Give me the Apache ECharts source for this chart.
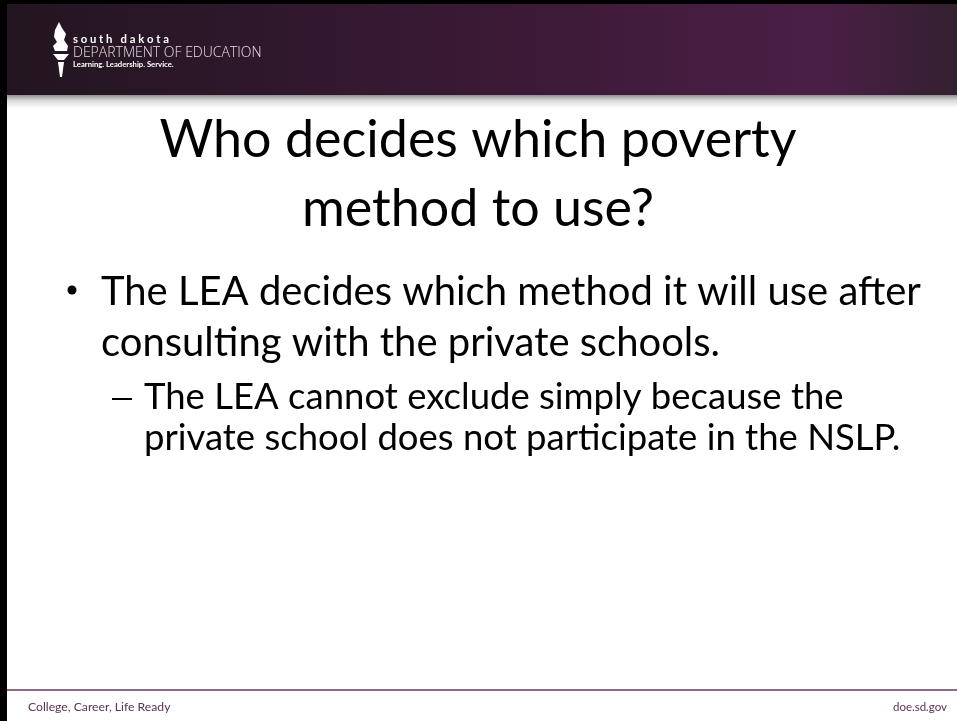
<!DOCTYPE html>
<html>
<head>
<meta charset="utf-8">
<script src="https://cdn.jsdelivr.net/npm/echarts@6/dist/echarts.min.js"></script>
<style>
  html, body { margin: 0; padding: 0; background: #fff; }
  #container { width: 957px; height: 721px; }
</style>
</head>
<body>
<div id="container"></div>
<script>
// slide texts
var titleLines = ['Who decides which poverty', 'method to use?']
var bulletLines = ['The LEA decides which method it will use after', 'consulting with the private schools.']
var subBulletLines = ['The LEA cannot exclude simply because the', 'private school does not participate in the NSLP.']
var logoLines = ['south dakota', 'DEPARTMENT OF EDUCATION', 'Learning. Leadership. Service.']
var footerLeft = 'College, Career, Life Ready'
var footerRight = 'doe.sd.gov'

var bodyFont = 'Lato, "Open Sans", sans-serif'
var purple = '#5b3354'

var elements = []

// header band
elements.push({
    type: 'rect',
    shape: { x: 0, y: 0, width: 957, height: 95 },
    style: {
        fill: new echarts.graphic.LinearGradient(0, 0, 1, 0, [
            { offset: 0, color: '#221520' },
            { offset: 0.55, color: '#3c1a37' },
            { offset: 0.86, color: '#4a1f46' },
            { offset: 1, color: '#33202f' }
        ])
    }
})
// soft shadow under header
elements.push({
    type: 'rect',
    shape: { x: 0, y: 95, width: 957, height: 13 },
    style: {
        fill: new echarts.graphic.LinearGradient(0, 0, 0, 1, [
            { offset: 0, color: '#8f8f8f' },
            { offset: 0.4, color: '#d6d6d6' },
            { offset: 1, color: '#ffffff' }
        ])
    }
})
// black frame top + left
elements.push({ type: 'rect', shape: { x: 0, y: 0, width: 957, height: 4 }, style: { fill: '#000' } })
elements.push({ type: 'rect', shape: { x: 0, y: 0, width: 7, height: 721 }, style: { fill: '#000' } })

// torch logo
elements.push({
    type: 'polygon',
    shape: { points: [[59, 22], [55, 30], [54, 37], [57, 42], [53, 46], [55, 51], [67, 51], [68, 46], [64, 40], [66, 34], [62, 28]] },
    style: { fill: '#fff' }
})
elements.push({
    type: 'polygon',
    shape: { points: [[53, 54], [69, 54], [64, 60], [58, 60]] },
    style: { fill: '#fff' }
})
elements.push({
    type: 'polygon',
    shape: { points: [[58, 62], [64, 62], [62, 77], [60, 77]] },
    style: { fill: '#fff' }
})
elements.push({
    type: 'text', x: 73, y: 39,
    style: { text: logoLines[0].split('').join(' '), fill: '#fff', font: 'bold 11.3px Lato, sans-serif', verticalAlign: 'middle' }
})
elements.push({
    type: 'text', x: 73, y: 53,
    style: { text: logoLines[1], fill: '#e8e0e6', font: '300 14px "Open Sans", sans-serif', verticalAlign: 'middle' }
})
elements.push({
    type: 'text', x: 73, y: 65,
    style: { text: logoLines[2], fill: '#fff', font: 'bold 7.7px Lato, sans-serif', verticalAlign: 'middle' }
})

// title
var titleY = [140, 209]
titleLines.forEach(function (t, i) {
    elements.push({
        type: 'text', x: 478, y: titleY[i],
        style: { text: t, fill: '#000', font: '52px ' + bodyFont, align: 'center', verticalAlign: 'middle' }
    })
})

// main bullet
elements.push({ type: 'circle', shape: { cx: 72, cy: 290, r: 4.5 }, style: { fill: '#000' } })
var bulletY = [292, 343]
bulletLines.forEach(function (t, i) {
    elements.push({
        type: 'text', x: 101, y: bulletY[i],
        style: { text: t, fill: '#000', font: '40px ' + bodyFont, verticalAlign: 'middle' }
    })
})

// sub bullet
elements.push({ type: 'line', shape: { x1: 112, y1: 399, x2: 132, y2: 399 }, style: { stroke: '#000', lineWidth: 2 } })
var subY = [397, 438]
subBulletLines.forEach(function (t, i) {
    elements.push({
        type: 'text', x: 144, y: subY[i],
        style: { text: t, fill: '#000', font: '36.5px ' + bodyFont, verticalAlign: 'middle' }
    })
})

// footer
elements.push({ type: 'line', shape: { x1: 7, y1: 690, x2: 957, y2: 690 }, style: { stroke: '#8c6b88', lineWidth: 2 } })
elements.push({
    type: 'text', x: 28, y: 707,
    style: { text: footerLeft, fill: purple, font: '12.2px Lato, sans-serif', verticalAlign: 'middle' }
})
elements.push({
    type: 'text', x: 947, y: 707,
    style: { text: footerRight, fill: purple, font: '11.5px Lato, sans-serif', align: 'right', verticalAlign: 'middle' }
})

var myChart = echarts.init(document.getElementById('container'))
myChart.setOption({
    backgroundColor: '#ffffff',
    animation: false,
    graphic: { elements: elements }
})
</script>
</body>
</html>
